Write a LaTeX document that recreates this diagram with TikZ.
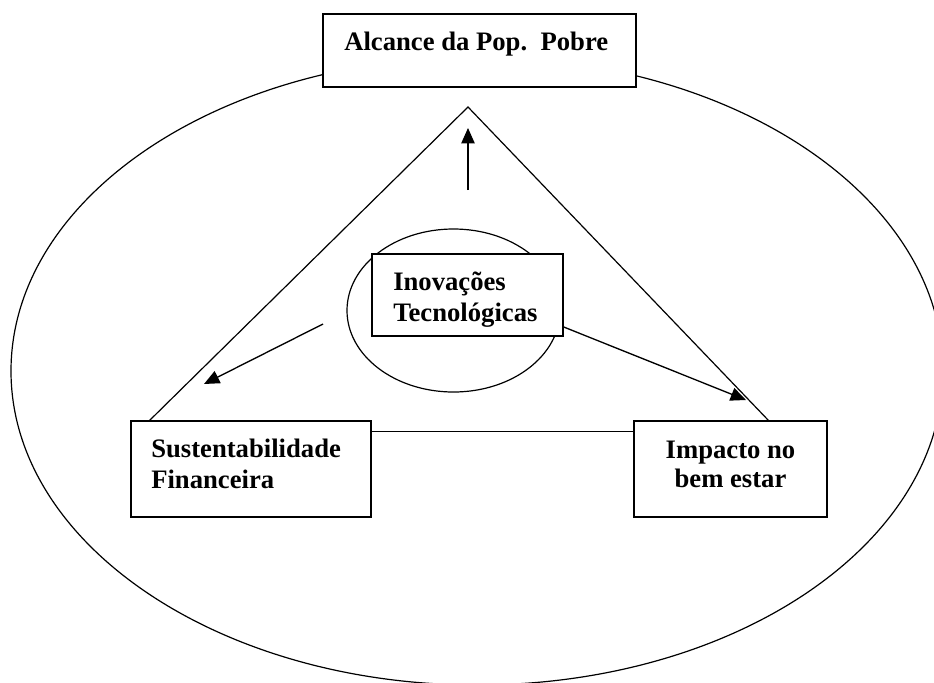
\documentclass[tikz,border=0pt]{standalone}
\usepackage{fontspec}
\setmainfont{Liberation Serif}
\usetikzlibrary{shapes.geometric,arrows.meta,calc}
\begin{document}
\begin{tikzpicture}[x=0.75pt,y=-0.75pt,
  boxst/.style={draw,line width=1.1pt,fill=white,rectangle,inner sep=0pt},
  ellst/.style={draw,line width=0.9pt,ellipse,inner sep=0pt},
  linest/.style={line width=0.9pt},
  arr/.style={line width=1pt,-{Triangle[length=11.5pt,width=10pt]}},
  txt/.style={font=\bfseries\fontsize{20}{23.25}\selectfont,inner sep=0pt}]
\useasboundingbox (0,0) rectangle (934,682);
\begin{scope}
\clip (0,0) rectangle (934,682);
\node[ellst,minimum width=699pt,minimum height=471pt] (outer) at (477,371) {};
\end{scope}
% boxes
\node[boxst,minimum width=234.75pt,minimum height=54.75pt] (alc) at (479.5,50.5) {};
\node[boxst,minimum width=180pt,minimum height=72pt] (sust) at (251,469) {};
\node[boxst,minimum width=144.75pt,minimum height=72pt] (imp) at (730.5,469) {};
% triangle
\coordinate (apex) at (468,107);
\coordinate (lv) at (149,421);
\coordinate (rv) at (769,421);
\draw[linest] (lv) -- (apex) -- (rv);
\draw[linest] ([yshift=-8.25pt]sust.north east) -- ([yshift=-8.25pt]imp.north west);
% inner ellipse and box
\node[ellst,minimum width=159.75pt,minimum height=122.25pt] (innerell) at (453.5,310.5) {};
\node[boxst,minimum width=143.25pt,minimum height=61.5pt] (inno) at (467.5,295) {};
% arrows
\coordinate (upS) at (468,190);
\coordinate (upE) at (468,128);
\draw[arr] (upS) -- (upE);
\coordinate (lS) at (323,324);
\coordinate (lE) at (204,384);
\draw[arr] (lS) -- (lE);
\coordinate (rE) at (746,400);
\draw[arr] ([yshift=-24pt]inno.east) -- (rE);
% texts
\node[txt,anchor=base west] (alcT) at (344,50) {Alcance da Pop.\ \ Pobre};
\node[txt,anchor=base west] (innoT1) at (393,290) {Inovações};
\node[txt,anchor=base west] (innoT2) at (393,321) {Tecnológicas};
\node[txt,anchor=base west] (sustT1) at (151,457) {Sustentabilidade};
\node[txt,anchor=base west] (sustT2) at (151,488) {Financeira};
\node[txt,anchor=base] (impT1) at (730.5,458) {Impacto no};
\node[txt,anchor=base] (impT2) at (730.5,487) {bem estar};
\end{tikzpicture}
\end{document}
